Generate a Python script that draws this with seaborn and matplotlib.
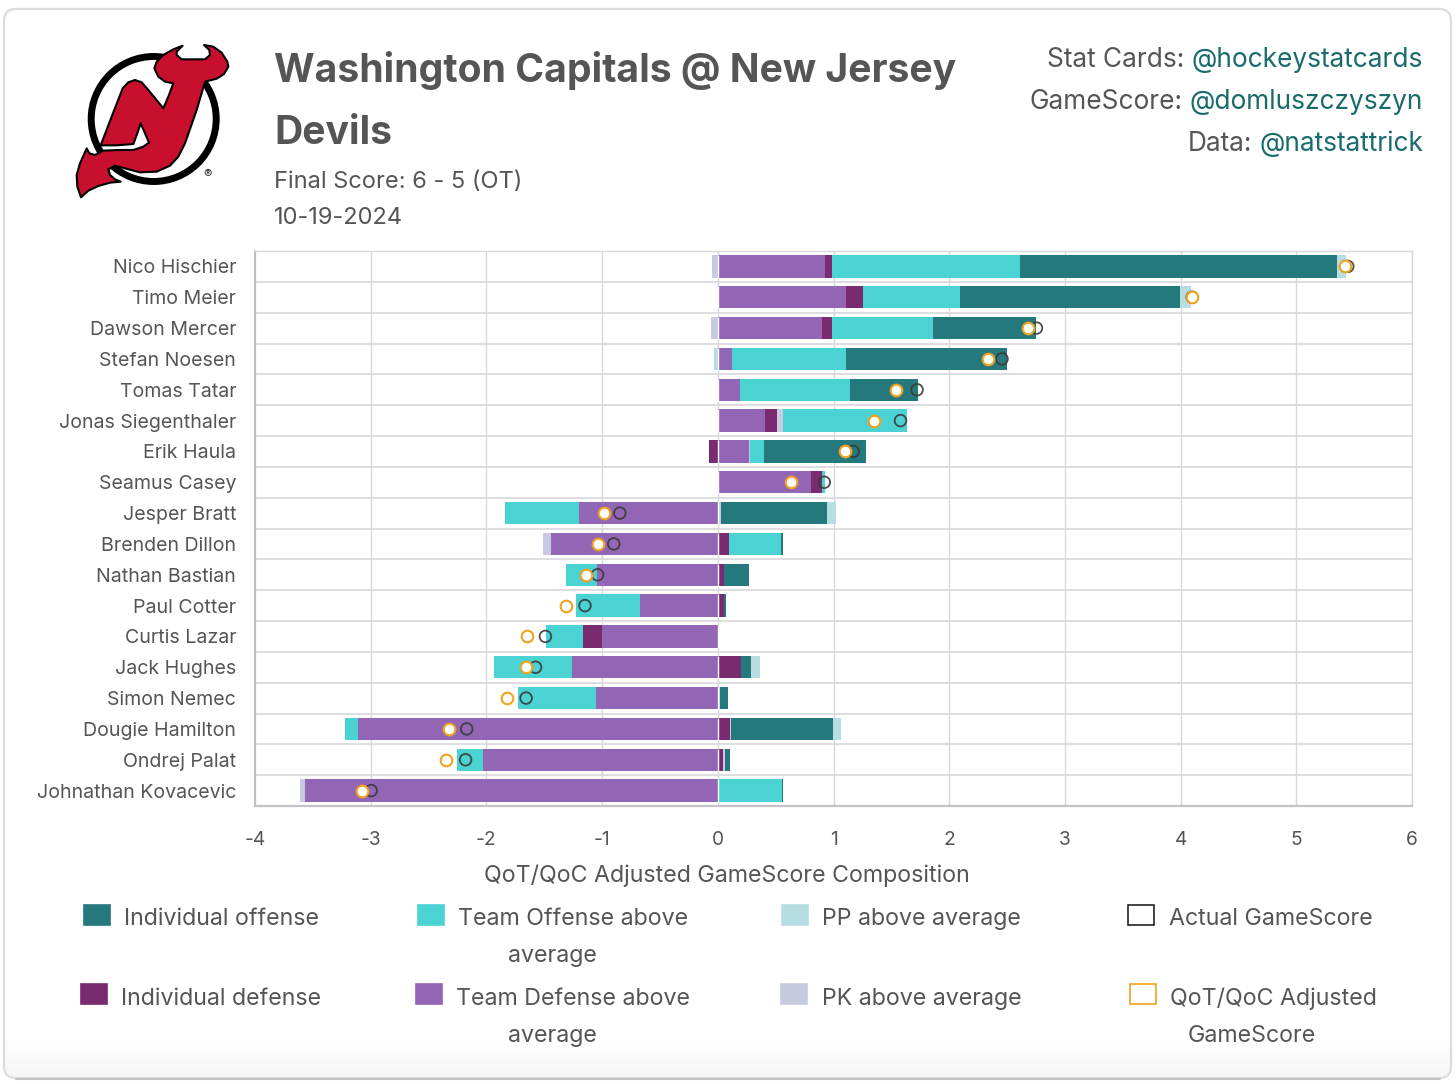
import numpy as np
import matplotlib
matplotlib.use('Agg')
import matplotlib.pyplot as plt
from matplotlib.patches import FancyBboxPatch, Rectangle, Circle, Polygon
import seaborn as sns

players = ['Nico Hischier', 'Timo Meier', 'Dawson Mercer', 'Stefan Noesen', 'Tomas Tatar',
           'Jonas Siegenthaler', 'Erik Haula', 'Seamus Casey', 'Jesper Bratt', 'Brenden Dillon',
           'Nathan Bastian', 'Paul Cotter', 'Curtis Lazar', 'Jack Hughes', 'Simon Nemec',
           'Dougie Hamilton', 'Ondrej Palat', 'Johnathan Kovacevic']

team_def = [0.925, 1.107, 0.897, 0.119, 0.19, 0.409, 0.266, 0.806, -1.199, -1.445,
            -1.045, -0.676, -1.004, -1.264, -1.056, -3.106, -2.033, -3.567]
ind_def = [0.065, 0.147, 0.091, 0, 0, 0.103, -0.08, 0.095, 0, 0.099,
           0.051, 0.05, -0.161, 0.198, 0, 0.102, 0.048, 0]
pk = [-0.05, 0, -0.055, 0, 0, 0.051, 0.016, 0, 0.03, -0.062,
      0, 0, 0, 0, 0.02, 0.014, 0.017, -0.048]
team_off = [1.625, 0.841, 0.873, 0.988, 0.956, 1.068, 0.115, 0.029, -0.636, 0.451,
            -0.263, -0.55, -0.321, -0.67, -0.669, -0.12, -0.225, 0.553]
ind_off = [2.738, 1.897, 0.893, 1.393, 0.583, 0, 0.885, 0, 0.91, 0.01,
           0.219, 0.02, 0, 0.085, 0.072, 0.878, 0.037, 0.01]
pp = [0.08, 0.10, 0, -0.03, 0, 0, 0, 0, 0.079, 0,
      0, 0, 0, 0.078, 0, 0.075, 0, 0]
actual = [5.445, 4.10, 2.754, 2.456, 1.722, 1.579, 1.17, 0.92, -0.847, -0.899,
          -1.039, -1.148, -1.49, -1.575, -1.657, -2.17, -2.18, -2.996]
adjusted = [5.425, 4.10, 2.68, 2.337, 1.54, 1.349, 1.103, 0.631, -0.98, -1.039,
            -1.138, -1.308, -1.647, -1.657, -1.818, -2.32, -2.347, -3.075]

xticks = [-4, -3, -2, -1, 0, 1, 2, 3, 4, 5, 6]

C_IO, C_TO, C_PP = '#25797c', '#4bd2d3', '#b6dde2'
C_ID, C_TD, C_PK = '#7a2a6e', '#9366b5', '#c6cbe2'
C_ACT, C_ADJ = '#3a3a3a', '#f0a21e'
GRID = '#d8d8dc'
TXT = '#555555'
LINK = '#1a6b6b'

W, H = 1456, 1084

sns.set_theme(style='white')
plt.rcParams['font.family'] = ['Inter', 'DejaVu Sans']

fig = plt.figure(figsize=(W / 100, H / 100), dpi=100, facecolor='white')

# background layer in pixel coords: card, gradient, logo, header, legend
bg = fig.add_axes([0, 0, 1, 1], zorder=0)
bg.set_xlim(0, W)
bg.set_ylim(H, 0)
bg.axis('off')

card = FancyBboxPatch((4, 9), 1447, 1069, boxstyle='round,pad=0,rounding_size=12',
                      fc='white', ec='none')
bg.add_patch(card)
grad = bg.imshow(np.linspace(0, 1, 60).reshape(-1, 1), extent=(4, 1451, 1078, 1040),
                 cmap=matplotlib.colors.LinearSegmentedColormap.from_list('g', ['white', '#f6f6f6']),
                 aspect='auto', zorder=1)
grad.set_clip_path(card)
bg.set_xlim(0, W)
bg.set_ylim(H, 0)
bg.add_patch(FancyBboxPatch((4, 9), 1447, 1069, boxstyle='round,pad=0,rounding_size=12',
                            fc='none', ec='#dcdcdc', lw=1.6, zorder=2))
bg.plot([16, 1440], [1079, 1079], color='#c4c4c4', lw=1.5, zorder=2)

# logo
bg.add_patch(Circle((153.7, 119), 62.5, fc='white', ec='black', lw=5, zorder=3))
devil = np.array([(463, 205), (470, 185), (490, 165), (520, 148), (548, 137), (530, 155), (530, 165),
                  (545, 178), (615, 178), (630, 165), (628, 150), (612, 135), (640, 140), (665, 158),
                  (682, 185), (685, 200), (672, 222), (650, 236), (615, 245), (590, 330), (555, 430),
                  (535, 470), (510, 497), (470, 515), (420, 517), (375, 505), (345, 497), (325, 508),
                  (330, 525), (345, 538), (362, 545), (330, 548), (295, 558), (265, 572), (243, 592),
                  (232, 560), (230, 525), (240, 490), (260, 445), (268, 460), (285, 465), (310, 452),
                  (355, 450), (400, 450), (430, 440), (447, 428), (435, 400), (422, 370), (412, 400),
                  (400, 432), (350, 436), (302, 436), (335, 350), (368, 265), (385, 247), (405, 240),
                  (425, 247), (445, 270), (490, 325), (505, 290), (520, 250), (495, 245), (475, 230)]) / 3
bg.add_patch(Polygon(devil, closed=True, fc='#c8102e', ec='black', lw=1.5, joinstyle='round', zorder=4))
bg.text(208, 175, '®', fontsize=9, ha='center', va='center', color='#333333', zorder=5)

# header
bg.text(274, 71, 'Washington Capitals @ New Jersey', fontsize=28.2, fontweight='bold', color=TXT, va='center')
bg.text(274, 133, 'Devils', fontsize=28.2, fontweight='bold', color=TXT, va='center')
bg.text(274, 182, 'Final Score: 6 - 5 (OT)', fontsize=17, color=TXT, va='center')
bg.text(274, 218, '10-19-2024', fontsize=17, color=TXT, va='center')

renderer = fig.canvas.get_renderer()
for y, label, handle in [(60, 'Stat Cards:', '@hockeystatcards'),
                         (102, 'GameScore:', '@domluszczyszyn'),
                         (144, 'Data:', '@natstattrick')]:
    t = bg.text(1423, y, handle, fontsize=18.9, color=LINK, ha='right', va='center')
    x0 = t.get_window_extent(renderer).x0
    bg.text(x0 - 7, y, label, fontsize=18.9, color=TXT, ha='right', va='center')

# legend
legend_rows = [(84, 905, C_IO, C_IO, 124, 919, 'Individual offense'),
               (418, 905, C_TO, C_TO, 458, 919, 'Team Offense above'),
               (782, 905, C_PP, C_PP, 822, 919, 'PP above average'),
               (1128, 905, 'white', '#222222', 1169, 919, 'Actual GameScore'),
               (81, 984, C_ID, C_ID, 121, 999, 'Individual defense'),
               (415.5, 984, C_TD, C_TD, 456, 999, 'Team Defense above'),
               (781, 984, C_PK, C_PK, 822, 999, 'PK above average'),
               (1130, 984, 'white', C_ADJ, 1170, 999, 'QoT/QoC Adjusted')]
for bx, by, fc, ec, tx, ty, label in legend_rows:
    bg.add_patch(Rectangle((bx, by), 26, 20, fc=fc, ec=ec, lw=1.2, zorder=3))
    bg.text(tx, ty, label, fontsize=16.7, color=TXT, va='center')
for cx, cy, label in [(552, 956, 'average'), (552, 1036, 'average'), (1252, 1036, 'GameScore')]:
    bg.text(cx, cy, label, fontsize=16.7, color=TXT, va='center', ha='center')

# chart
L, R, T, B = 255, 1412, 251, 806
ax = fig.add_axes([L / W, 1 - B / H, (R - L) / W, (B - T) / H], zorder=1)
ax.patch.set_alpha(0)

components = [(team_def, C_TD), (ind_def, C_ID), (pk, C_PK), (team_off, C_TO), (ind_off, C_IO), (pp, C_PP)]
pos_stack = np.zeros(len(players))
neg_stack = np.zeros(len(players))
for vals, col in components:
    vals = np.array(vals, dtype=float)
    left = np.where(vals >= 0, pos_stack, neg_stack)
    sns.barplot(x=vals, y=players, left=left, color=col, saturation=1, width=0.72,
                orient='y', linewidth=0, ax=ax, zorder=2)
    pos_stack += np.clip(vals, 0, None)
    neg_stack += np.clip(vals, None, 0)

rows = np.arange(len(players))
ax.vlines(np.zeros(len(players)), rows - 0.36, rows + 0.36, color='white', lw=1, zorder=2.5)

sns.scatterplot(x=actual, y=players, s=70, facecolor='none', edgecolor=C_ACT, linewidth=1.3,
                alpha=0.9, ax=ax, zorder=3)
sns.scatterplot(x=adjusted, y=players, s=70, facecolor='white', edgecolor=C_ADJ, linewidth=1.5,
                ax=ax, zorder=4)

ax.set_xlim(-4, 6)
ax.set_ylim(len(players) - 0.5, -0.5)
ax.set_xticks(xticks)
ax.set_xticklabels([str(v) for v in xticks])
ax.set_xlabel('')
ax.set_ylabel('')
ax.grid(axis='x', color=GRID, lw=1, zorder=0)
ax.set_axisbelow(True)
# row separators sit between categories
ax.set_yticks(np.arange(len(players) + 1) - 0.5, minor=True)
ax.grid(axis='y', which='minor', color=GRID, lw=1.2, zorder=0)
ax.tick_params(axis='y', which='minor', length=10, width=1.2, color=GRID)
ax.tick_params(axis='y', which='major', length=0, pad=13.5, labelsize=14.1, labelcolor=TXT)
ax.tick_params(axis='x', length=10, width=1, color=GRID, pad=8, labelsize=13.8, labelcolor=TXT)
for name, sp in ax.spines.items():
    sp.set_color(GRID)
    sp.set_linewidth(1)
ax.spines['left'].set_color('#b8b8bc')
ax.spines['left'].set_linewidth(1.2)
ax.spines['bottom'].set_color('#c4c4c8')
ax.spines['bottom'].set_linewidth(1.6)

bg.text(727, 876, 'QoT/QoC Adjusted GameScore Composition', fontsize=16.7, color=TXT, ha='center', va='center')

fig.savefig('out.png', dpi=100)
